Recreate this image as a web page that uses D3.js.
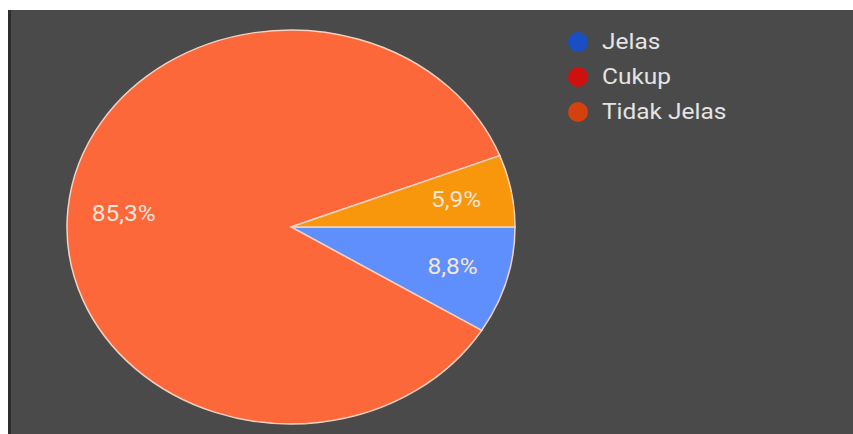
<!DOCTYPE html>
<html>
<head>
<meta charset="utf-8">
<script src="https://cdn.jsdelivr.net/npm/d3@7"></script>
<style>
  html, body { margin: 0; padding: 0; background: #ffffff; }
  svg { display: block; }
  text { font-family: Roboto, "Noto Sans", sans-serif; }
</style>
</head>
<body>
<script>
// Survey answers, in drawing order (clockwise from 3 o'clock)
const categories = ["Jelas", "Tidak Jelas", "Cukup"];
const values = [8.8, 85.3, 5.9];
const sliceColors = ["#5f8ffc", "#fd683b", "#f8970b"];

// Legend entries and their swatch colours
const legendLabels = ["Jelas", "Cukup", "Tidak Jelas"];
const legendColors = ["#1a4fc4", "#cf1010", "#d4410f"];

const W = 853, H = 434;
const svg = d3.select("body").append("svg").attr("width", W).attr("height", H);

// dark panel
svg.append("rect").attr("x", 8).attr("y", 10).attr("width", W - 8).attr("height", H - 10).attr("fill", "#4a4a4a");
svg.append("rect").attr("x", 8).attr("y", 10).attr("width", 3).attr("height", H - 10).attr("fill", "#2e2e2e");

// whole chart is stretched horizontally by this factor
const cx = 291, cy = 227, rx = 224, ry = 197;
const sx = rx / ry;

const pie = d3.pie().sort(null).value(d => d)
  .startAngle(Math.PI / 2).endAngle(Math.PI / 2 + 2 * Math.PI);
const arcs = pie(values);
const arc = d3.arc().innerRadius(0).outerRadius(ry);
const labelArc = d3.arc().innerRadius(ry * 0.75).outerRadius(ry * 0.75);

const g = svg.append("g").attr("transform", `translate(${cx},${cy}) scale(${sx},1)`);
g.selectAll("path").data(arcs).join("path")
  .attr("d", arc)
  .attr("fill", (d, i) => sliceColors[i])
  .attr("stroke", "#f3d2c2")
  .attr("stroke-width", 1.5)
  .attr("vector-effect", "non-scaling-stroke");

const fmt = v => v.toFixed(1).replace(".", ",") + "%";
svg.append("g").attr("transform", `translate(${cx},${cy})`)
  .selectAll("text").data(arcs).join("text")
  .attr("transform", d => {
    const c = labelArc.centroid(d);
    return `translate(${c[0] * sx},${c[1]}) scale(${sx},1)`;
  })
  .attr("text-anchor", "middle")
  .attr("dominant-baseline", "central")
  .attr("font-size", 21.5)
  .attr("fill", "#f6e6d8")
  .text(d => fmt(d.data));

// legend
const lg = svg.append("g").attr("transform", "translate(578,42)");
const item = lg.selectAll("g").data(legendLabels).join("g")
  .attr("transform", (d, i) => `translate(0,${i * 35})`);
item.append("circle").attr("r", 10).attr("fill", (d, i) => legendColors[i]);
item.append("text")
  .attr("transform", `translate(24,0) scale(${sx},1)`)
  .attr("dominant-baseline", "central")
  .attr("font-size", 21.5)
  .attr("fill", "#e4e4e4")
  .text(d => d);
</script>
</body>
</html>
